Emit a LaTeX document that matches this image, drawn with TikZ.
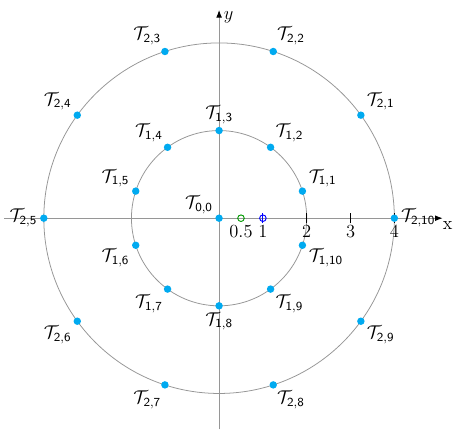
\documentclass[tikz,border=0pt]{standalone}
\usepackage{amsmath}
\usetikzlibrary{arrows.meta, positioning}
\definecolor{dotcyan}{RGB}{0, 170, 240}
\definecolor{axisgray}{RGB}{150, 150, 150}

\begin{document}
\begin{tikzpicture}[
			axis/.style={axisgray, line width=0.5pt, -{Latex[length=1.7mm, width=1.3mm, color=black]}},
			ring/.style={axisgray, line width=0.5pt},
			dot/.style={circle, fill=dotcyan, inner sep=0pt, minimum size=1.7mm},
			tag/.style={font=\large, inner sep=1.5pt},
			tick/.style={line width=0.6pt}
		]
		\useasboundingbox (-5,-5.05) rectangle (5.43,4.98);
		% Axes
		\coordinate (x-start) at (-4.9,0);
		\coordinate (x-end) at (5.1,0);
		\coordinate (y-start) at (0,-4.82);
		\coordinate (y-end) at (0,4.75);
		\draw[axis] (x-start) -- (x-end);
		\draw[axis] (y-start) -- (y-end);
		\node[anchor=west, inner sep=0pt, font=\large, yshift=-0.17cm] (x-label) at (x-end) {x};
		\node[anchor=north west, inner sep=0pt, font=\large, xshift=0.1cm, yshift=-0.02cm] (y-label) at (y-end) {$y$};
		
		% Circles
		\draw[ring] (0,0) circle (2);
		\draw[ring] (0,0) circle (4);
		
		% Ticks on the x axis
		\foreach \t in {2,3,4}
		{
			\draw[tick] (\t,-0.12) -- (\t,0.12);
			\node[below=0.12cm of {\t,0}, inner sep=1pt, font=\large] (tick-\t) {\t};
		}
		\node[below=0.12cm of {0.5,0}, inner sep=1pt, font=\large] (tick-half) {0.5};
		\node[below=0.12cm of {1,0}, inner sep=1pt, font=\large] (tick-1) {1};
		
		% Markers at 0.5 and 1
		\draw[green!60!black, line width=0.6pt] (0.5,0) circle (0.075);
		\draw[blue, line width=0.6pt] (1,0) circle (0.075);
		\draw[blue, line width=0.6pt] (1,-0.12) -- (1,0.12);
		
		% Centre point
		\node[dot, label={[tag]155:$\mathcal{T}_{\mathsf{0,0}}$}] (t0) at (0,0) {};
		
		% Inner ring
		\foreach \k in {1,...,10}
		{
			\pgfmathsetmacro{\ang}{18+36*(\k-1)}
			\node[dot, label={[tag]\ang:$\mathcal{T}_{\mathsf{1,\k}}$}] (t1-\k) at (\ang:2) {};
		}
		
		% Outer ring
		\foreach \k in {1,...,10}
		{
			\pgfmathsetmacro{\ang}{36*\k}
			\node[dot, label={[tag]\ang:$\mathcal{T}_{\mathsf{2,\k}}$}] (t2-\k) at (\ang:4) {};
		}
		\end{tikzpicture}
\end{document}
